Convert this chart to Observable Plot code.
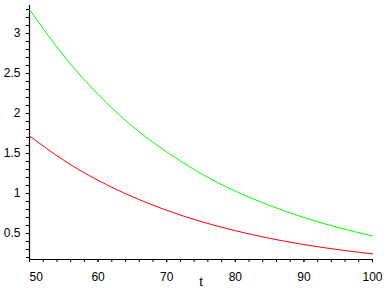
<!DOCTYPE html>
<html>
<head>
<meta charset="utf-8">
<script src="https://cdn.jsdelivr.net/npm/d3@7"></script>
<script src="https://cdn.jsdelivr.net/npm/@observablehq/plot@0.6"></script>
<style>
  html, body { margin: 0; padding: 0; background: #fff; }
  svg { display: block; }
</style>
</head>
<body>
<div id="chart"></div>
<script>
const tValues = [50, 55, 60, 65, 70, 75, 80, 85, 90, 95, 100];
const greenValues = [3.30, 2.72, 2.24, 1.84, 1.52, 1.25, 1.03, 0.85, 0.70, 0.575, 0.47];
const redValues = [1.72, 1.415, 1.165, 0.96, 0.79, 0.65, 0.535, 0.44, 0.362, 0.298, 0.245];
const xMajorTicks = [60, 70, 80, 90, 100];
const xFirstTick = [50];
const xMinorTicks = d3.range(50, 101, 2);
const yMajorTicks = [0.5, 1, 1.5, 2, 2.5, 3];
const yMinorTicks = d3.range(2, 34).map(d => d / 10);
const xLabel = "t";

const green = tValues.map((t, i) => ({t, v: greenValues[i]}));
const red = tValues.map((t, i) => ({t, v: redValues[i]}));

const font = "'Liberation Sans', Arial, sans-serif";
const fmt = d => String(d);

const chart = Plot.plot({
  width: 388,
  height: 288,
  marginLeft: 29,
  marginRight: 16,
  marginTop: 5,
  marginBottom: 29,
  style: {fontFamily: font, fontSize: "12px", background: "#fff", color: "#000"},
  x: {domain: [50, 100]},
  y: {domain: [0.175, 3.35]},
  marks: [
    Plot.axisX(xMinorTicks, {tickSize: 3, text: null, label: null, stroke: "#000"}),
    Plot.axisX(xMajorTicks, {tickSize: 3, tickPadding: 10, label: null, fill: "#000", fontSize: 12, tickFormat: fmt}),
    Plot.axisX(xFirstTick, {tickSize: 3, tickPadding: 10, label: null, fill: "#000", textAnchor: "start", fontSize: 12, tickFormat: fmt}),
    Plot.axisY(yMinorTicks, {tickSize: 3, text: null, label: null, stroke: "#000"}),
    Plot.axisY(yMajorTicks, {tickSize: 3, tickPadding: 6, label: null, fill: "#000", fontSize: 12, tickFormat: fmt}),
    Plot.ruleX([50], {stroke: "#000", strokeWidth: 1.2}),
    Plot.ruleY([0.175], {stroke: "#000", strokeWidth: 1.2}),
    Plot.line(green, {x: "t", y: "v", stroke: "#00ff00", strokeWidth: 1, curve: "natural"}),
    Plot.line(red, {x: "t", y: "v", stroke: "#ff0000", strokeWidth: 1, curve: "natural"}),
    Plot.text([xLabel], {x: 75, frameAnchor: "bottom", dy: 22, text: d => d, fill: "#000", fontSize: 13, lineAnchor: "middle"})
  ]
});
document.getElementById("chart").appendChild(chart);
</script>
</body>
</html>
